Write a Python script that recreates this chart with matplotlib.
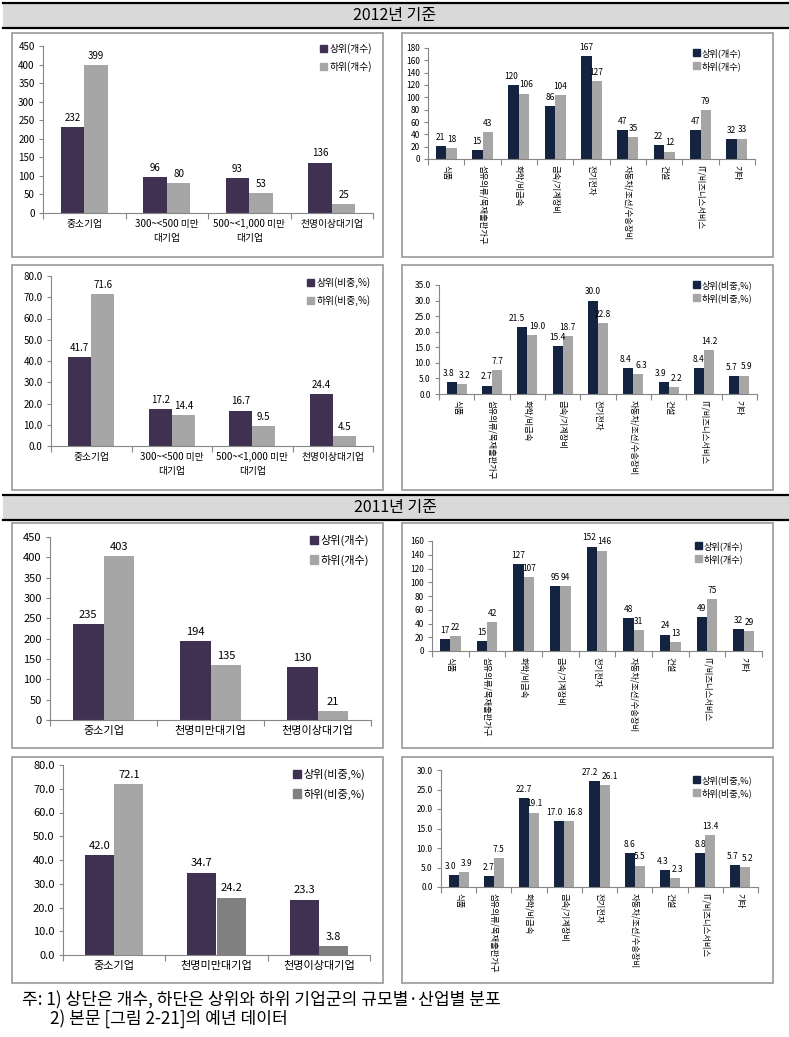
import matplotlib
matplotlib.use("Agg")
import matplotlib.pyplot as plt
import numpy as np
from matplotlib.patches import Rectangle, Patch
from matplotlib.lines import Line2D

plt.rcParams['font.family'] = ['Noto Sans CJK KR', 'DejaVu Sans']

W, H = 789, 1037

# ---- data ----
size_2012 = ['중소기업', '300~<500 미만\n대기업', '500~<1,000 미만\n대기업', '천명이상대기업']
size_2011 = ['중소기업', '천명미만대기업', '천명이상대기업']
industries = ['식품', '섬유의류/목재출판가구', '화학/비금속', '금속/기계장비', '전기전자',
              '자동차/조선/수송장비', '건설', 'IT/비즈니스서비스', '기타']

cnt12_top = [232, 96, 93, 136]
cnt12_bot = [399, 80, 53, 25]
pct12_top = [41.7, 17.2, 16.7, 24.4]
pct12_bot = [71.6, 14.4, 9.5, 4.5]

ind_cnt12_top = [21, 15, 120, 86, 167, 47, 22, 47, 32]
ind_cnt12_bot = [18, 43, 106, 104, 127, 35, 12, 79, 33]
ind_pct12_top = [3.8, 2.7, 21.5, 15.4, 30.0, 8.4, 3.9, 8.4, 5.7]
ind_pct12_bot = [3.2, 7.7, 19.0, 18.7, 22.8, 6.3, 2.2, 14.2, 5.9]

cnt11_top = [235, 194, 130]
cnt11_bot = [403, 135, 21]
pct11_top = [42.0, 34.7, 23.3]
pct11_bot = [72.1, 24.2, 3.8]

ind_cnt11_top = [17, 15, 127, 95, 152, 48, 24, 49, 32]
ind_cnt11_bot = [22, 42, 107, 94, 146, 31, 13, 75, 29]
ind_pct11_top = [3.0, 2.7, 22.7, 17.0, 27.2, 8.6, 4.3, 8.8, 5.7]
ind_pct11_bot = [3.9, 7.5, 19.1, 16.8, 26.1, 5.5, 2.3, 13.4, 5.2]

PURPLE = '#403152'
NAVY = '#14233F'
LGRAY = '#A6A6A6'
DGRAY = '#808080'

fig = plt.figure(figsize=(W / 100, H / 100), dpi=100)


def fx(x):
    return x / W


def fy(y):
    return 1 - y / H


def box(x0, y0, x1, y1):
    fig.patches.append(Rectangle((fx(x0), fy(y1)), fx(x1 - x0), (y1 - y0) / H,
                                 transform=fig.transFigure, fill=False,
                                 edgecolor='#A0A0A0', lw=1.3))


def header(y0, y1, text):
    fig.patches.append(Rectangle((fx(3), fy(y1)), fx(786), (y1 - y0) / H,
                                 transform=fig.transFigure, facecolor='#D9D9D9',
                                 edgecolor='none'))
    for y in (y0, y1):
        fig.add_artist(Line2D([fx(3), 1], [fy(y), fy(y)], color='black', lw=1.6,
                              transform=fig.transFigure))
    fig.text(fx(395), fy((y0 + y1) / 2), text, ha='center', va='center', fontsize=11.5)


def panel(pos, cats, top, bot, ymax, step, fmt, top_c, bot_c, labels, leg, fs,
          rotate=False, bot_colors=None, leg_bot_c=None, leg_fs=None):
    x0, x1, ytop, ybot = pos
    ax = fig.add_axes([fx(x0), fy(ybot), fx(x1 - x0), (ybot - ytop) / H])
    n = len(cats)
    x = np.arange(n)
    w = 1 / 3.5
    b1 = ax.bar(x - w / 2, top, w, color=top_c)
    b2 = ax.bar(x + w / 2, bot, w, color=bot_colors if bot_colors else bot_c)
    l1 = ax.bar_label(b1, fmt=fmt, padding=3, fontsize=fs)
    l2 = ax.bar_label(b2, fmt=fmt, padding=3, fontsize=fs)
    # push neighbouring labels apart when they sit at about the same height
    px_per_unit = (ybot - ytop) / ymax
    bar_pt = (x1 - x0) / n * w * 0.72
    for i in range(n):
        if abs(top[i] - bot[i]) * px_per_unit < 10:
            need = (len(fmt % top[i]) + len(fmt % bot[i])) * 0.28 * fs + 1
            dx = max(0, need - bar_pt) / 2
            l1[i].xyann = (-dx, 3)
            l2[i].xyann = (dx, 3)
    ax.set_xlim(-0.5, n - 0.5)
    ax.set_ylim(0, ymax)
    ax.set_yticks(np.arange(0, ymax + step / 2, step))
    ax.set_yticklabels([fmt % v for v in np.arange(0, ymax + step / 2, step)])
    ax.set_xticks(np.arange(n + 1) - 0.5)
    ax.set_xticklabels([])
    ax.set_xticks(x, minor=True)
    if rotate:
        ax.set_xticklabels(cats, minor=True, rotation=270, va='top', ha='center',
                           fontsize=fs)
    else:
        ax.set_xticklabels(cats, minor=True, fontsize=fs, linespacing=1.5)
    ax.tick_params(axis='x', which='minor', length=0, pad=4)
    ax.tick_params(axis='x', which='major', length=4, color='#868686')
    ax.tick_params(axis='y', length=3, color='#868686', labelsize=fs, pad=3)
    for s in ('top', 'right'):
        ax.spines[s].set_visible(False)
    for s in ('left', 'bottom'):
        ax.spines[s].set_color('#868686')
    ax.set_facecolor('none')
    lx, ly, sp = leg
    handles = [Patch(color=top_c), Patch(color=leg_bot_c or bot_c)]
    ax.legend(handles, labels, loc='upper left', bbox_to_anchor=(fx(lx), fy(ly)),
              bbox_transform=fig.transFigure, frameon=False, fontsize=leg_fs or fs,
              handlelength=0.75, handleheight=0.75, handletextpad=0.2,
              borderpad=0, borderaxespad=0, labelspacing=sp)
    return ax


cnt_lbl = ['상위(개수)', '하위(개수)']
pct_lbl = ['상위(비중,%)', '하위(비중,%)']

header(3, 28, '2012년 기준')
header(495, 520, '2011년 기준')

for bx in [(12, 33, 383, 257), (402, 33, 773, 257), (12, 265, 383, 490),
           (402, 265, 773, 490), (12, 523, 383, 748), (402, 523, 773, 748),
           (12, 757, 383, 983), (402, 757, 773, 983)]:
    box(*bx)

panel((43, 373, 46, 213), size_2012, cnt12_top, cnt12_bot, 450, 50, '%d',
      PURPLE, LGRAY, cnt_lbl, (320, 43, 0.75), 7)
panel((428, 755, 48, 159), industries, ind_cnt12_top, ind_cnt12_bot, 180, 20, '%d',
      NAVY, LGRAY, cnt_lbl, (693, 48, 0.35), 6, rotate=True, leg_fs=6.6)
panel((51, 373, 276, 446), size_2012, pct12_top, pct12_bot, 80, 10, '%.1f',
      PURPLE, LGRAY, pct_lbl, (307, 277, 0.75), 7)
panel((439, 757, 285, 394), industries, ind_pct12_top, ind_pct12_bot, 35, 5, '%.1f',
      NAVY, LGRAY, pct_lbl, (693, 280, 0.35), 6, rotate=True, leg_fs=6.6)
panel((50, 371, 537, 720), size_2011, cnt11_top, cnt11_bot, 450, 50, '%d',
      PURPLE, LGRAY, cnt_lbl, (310, 535, 0.75), 8)
panel((432, 762, 541, 651), industries, ind_cnt11_top, ind_cnt11_bot, 160, 20, '%d',
      NAVY, LGRAY, cnt_lbl, (695, 541, 0.35), 6, rotate=True, leg_fs=6.6)
panel((63, 370, 765, 955), size_2011, pct11_top, pct11_bot, 80, 10, '%.1f',
      PURPLE, LGRAY, pct_lbl, (293, 769, 0.75), 8,
      bot_colors=[LGRAY, DGRAY, DGRAY], leg_bot_c=DGRAY)
panel((441, 758, 770, 887), industries, ind_pct11_top, ind_pct11_bot, 30, 5, '%.1f',
      NAVY, LGRAY, pct_lbl, (693, 775, 0.35), 6, rotate=True, leg_fs=6.6)

fig.text(fx(22), fy(1000), '주: 1) 상단은 개수, 하단은 상위와 하위 기업군의 규모별·산업별 분포',
         ha='left', va='center', fontsize=12.3)
fig.text(fx(50), fy(1019), '2) 본문 [그림 2-21]의 예년 데이터',
         ha='left', va='center', fontsize=12.3)

fig.savefig('out.png', dpi=100)
